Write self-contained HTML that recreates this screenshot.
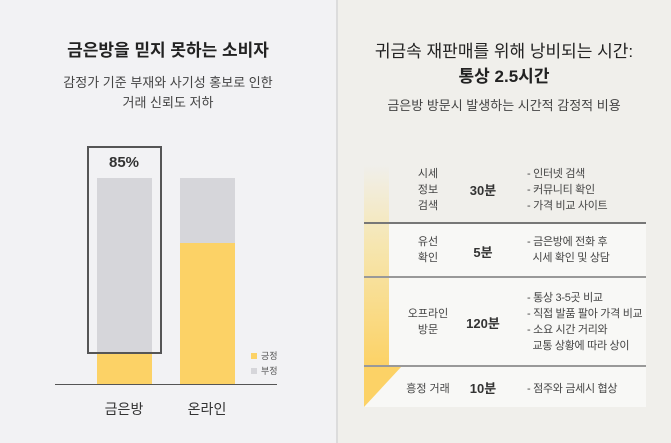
<!DOCTYPE html>
<html><head><meta charset="utf-8"><style>
*{margin:0;padding:0;box-sizing:border-box}
body{width:671px;height:443px;overflow:hidden;font-family:"Liberation Sans","Noto Sans CJK KR",sans-serif;position:relative;background:#f0efeb}
.a{position:absolute}
.c{transform:translateX(-50%);text-align:center;white-space:nowrap}
.d{letter-spacing:-0.3px;white-space:nowrap}
</style></head><body>
<div class="a" style="left:0;top:0;width:337px;height:443px;background:#f2f2f4"></div>
<div class="a" style="left:336px;top:0;width:2px;height:443px;background:#dcdcdc"></div>
<div class="a c" style="left:168px;top:36px;font-size:17px;font-weight:bold;color:#222">금은방을 믿지 못하는 소비자</div>
<div class="a c" style="left:168px;top:73px;font-size:13px;line-height:20px;color:#444">감정가 기준 부재와 사기성 홍보로 인한<br>거래 신뢰도 저하</div>
<div class="a" style="left:97px;top:178px;width:55px;height:175px;background:#d6d6da"></div>
<div class="a" style="left:97px;top:353px;width:55px;height:32px;background:#fcd266"></div>
<div class="a" style="left:180px;top:178px;width:55px;height:65px;background:#d6d6da"></div>
<div class="a" style="left:180px;top:243px;width:55px;height:142px;background:#fcd266"></div>
<div class="a" style="left:87px;top:146px;width:75px;height:208px;border:2px solid #555"></div>
<div class="a c" style="left:124px;top:154px;font-size:15px;font-weight:bold;color:#333">85%</div>
<div class="a" style="left:55px;top:384px;width:222px;height:1px;background:#555"></div>
<div class="a c" style="left:124px;top:399px;font-size:14px;color:#333">금은방</div>
<div class="a c" style="left:207px;top:399px;font-size:14px;color:#333">온라인</div>
<div class="a" style="left:251px;top:353px;width:6px;height:6px;background:#fcd266"></div>
<div class="a" style="left:261px;top:349px;font-size:9px;color:#555">긍정</div>
<div class="a" style="left:251px;top:368px;width:6px;height:6px;background:#d6d6da"></div>
<div class="a" style="left:261px;top:364px;font-size:9px;color:#555">부정</div>

<div class="a c" style="left:504px;top:37px;font-size:17px;color:#222">귀금속 재판매를 위해 낭비되는 시간:</div>
<div class="a c" style="left:504px;top:62px;font-size:17px;font-weight:bold;color:#222">통상 2.5시간</div>
<div class="a c" style="left:504px;top:95px;font-size:13px;color:#444">금은방 방문시 발생하는 시간적 감정적 비용</div>
<div class="a" style="left:364px;top:223px;width:282px;height:184px;background:#f8f8f6"></div>
<div class="a" style="left:364px;top:165px;width:25px;height:201px;background:linear-gradient(#f0efeb,#f6e6b0 40%,#fcd266)"></div>
<svg class="a" style="left:364px;top:366px" width="40" height="42"><polygon points="0,0 38,0 0,41" fill="#fcd266"/></svg>
<div class="a" style="left:364px;top:222px;width:282px;height:2px;background:#777"></div>
<div class="a" style="left:364px;top:276px;width:282px;height:2px;background:#999"></div>
<div class="a" style="left:364px;top:365px;width:282px;height:2px;background:#999"></div>
<div class="a c" style="left:428px;top:166px;font-size:11px;line-height:16px;color:#444">시세<br>정보<br>검색</div>
<div class="a c" style="left:483px;top:180px;font-size:13px;font-weight:bold;color:#333">30분</div>
<div class="a d" style="left:527px;top:166px;font-size:11px;line-height:16px;color:#444">- 인터넷 검색<br>- 커뮤니티 확인<br>- 가격 비교 사이트</div>
<div class="a c" style="left:428px;top:234px;font-size:11px;line-height:16px;color:#444">유선<br>확인</div>
<div class="a c" style="left:483px;top:242px;font-size:13px;font-weight:bold;color:#333">5분</div>
<div class="a d" style="left:527px;top:234px;font-size:11px;line-height:16px;color:#444">- 금은방에 전화 후<br>&nbsp;&nbsp;시세 확인 및 상담</div>
<div class="a c" style="left:428px;top:306px;font-size:11px;line-height:16px;color:#444">오프라인<br>방문</div>
<div class="a c" style="left:483px;top:313px;font-size:13px;font-weight:bold;color:#333">120분</div>
<div class="a d" style="left:527px;top:290px;font-size:11px;line-height:16px;color:#444">- 통상 3-5곳 비교<br>- 직접 발품 팔아 가격 비교<br>- 소요 시간 거리와<br>&nbsp;&nbsp;교통 상황에 따라 상이</div>
<div class="a c" style="left:428px;top:380px;font-size:11px;color:#444">흥정 거래</div>
<div class="a c" style="left:483px;top:378px;font-size:13px;font-weight:bold;color:#333">10분</div>
<div class="a d" style="left:527px;top:380px;font-size:11px;color:#444">- 점주와 금세시 협상</div>
</body></html>
